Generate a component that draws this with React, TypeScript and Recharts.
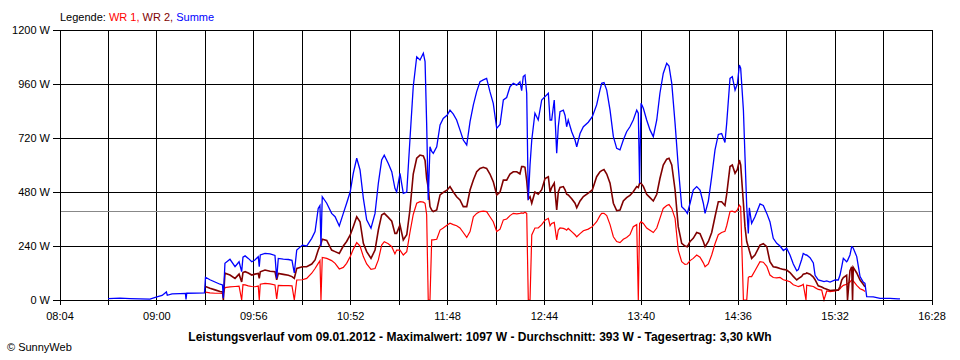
import { LineChart, Line, XAxis, YAxis, CartesianGrid, ReferenceLine } from 'recharts'

// Messzeitpunkte (hh:mm:ss)
const TIMES = [
  '08:31:45', '08:38:40', '08:44:30', '08:50:15', '08:56:00', '09:00:00', '09:03:00', '09:05:30', '09:06:00', '09:08:45',
  '09:13:20', '09:16:30', '09:16:50', '09:17:15', '09:23:10', '09:27:30', '09:28:05', '09:30:40', '09:33:35', '09:36:30',
  '09:37:55', '09:38:25', '09:39:20', '09:42:15', '09:45:10', '09:47:30', '09:49:00', '09:49:45', '09:51:00', '09:52:50',
  '09:54:50', '09:56:40', '09:58:35', '09:59:10', '09:59:45', '10:02:30', '10:05:25', '10:08:15', '10:09:15', '10:10:10',
  '10:13:05', '10:16:00', '10:18:05', '10:19:25', '10:20:50', '10:24:05', '10:26:35', '10:29:30', '10:31:25', '10:33:15',
  '10:34:15', '10:34:50', '10:35:35', '10:38:10', '10:41:00', '10:43:00', '10:45:25', '10:47:45', '10:49:40', '10:51:45',
  '10:53:30', '10:55:30', '10:57:25', '10:59:20', '11:01:15', '11:03:45', '11:06:05', '11:08:00', '11:09:55', '11:11:25',
  '11:13:45', '11:15:45', '11:17:35', '11:18:35', '11:20:30', '11:22:25', '11:24:25', '11:26:15', '11:28:10', '11:30:10',
  '11:32:05', '11:34:00', '11:35:00', '11:35:55', '11:36:50', '11:37:50', '11:38:50', '11:39:45', '11:41:45', '11:43:40',
  '11:45:30', '11:47:50', '11:49:25', '11:51:20', '11:53:15', '11:55:10', '11:57:05', '11:59:05', '12:01:00', '12:02:55',
  '12:04:50', '12:06:45', '12:08:40', '12:10:35', '12:12:30', '12:14:25', '12:16:25', '12:18:20', '12:20:15', '12:22:10',
  '12:24:05', '12:26:00', '12:28:00', '12:29:50', '12:30:50', '12:31:45', '12:32:45', '12:33:45', '12:34:40', '12:35:40',
  '12:36:40', '12:38:30', '12:40:25', '12:42:25', '12:44:20', '12:46:15', '12:47:15', '12:48:10', '12:49:40', '12:51:05',
  '12:52:00', '12:53:00', '12:54:55', '12:55:55', '12:56:50', '12:57:45', '12:59:45', '13:01:40', '13:02:40', '13:04:35',
  '13:06:30', '13:09:20', '13:11:40', '13:14:10', '13:16:05', '13:17:05', '13:18:25', '13:20:00', '13:21:55', '13:23:50',
  '13:25:45', '13:27:40', '13:29:35', '13:31:30', '13:33:25', '13:35:20', '13:37:20', '13:38:15', '13:39:00', '13:39:50',
  '13:41:10', '13:43:05', '13:45:00', '13:46:55', '13:48:55', '13:50:45', '13:52:40', '13:54:40', '13:56:00', '13:57:35',
  '13:59:30', '14:01:20', '14:03:20', '14:05:15', '14:06:35', '14:08:10', '14:10:00', '14:12:00', '14:13:55', '14:15:50',
  '14:16:50', '14:18:45', '14:20:40', '14:22:35', '14:24:30', '14:26:25', '14:28:20', '14:29:20', '14:31:15', '14:32:35',
  '14:34:10', '14:35:30', '14:36:40', '14:37:25', '14:39:00', '14:39:55', '14:40:55', '14:41:50', '14:42:25', '14:43:45',
  '14:45:40', '14:48:35', '14:50:30', '14:52:30', '14:54:20', '14:56:15', '14:58:15', '15:00:10', '15:02:05', '15:04:00',
  '15:05:55', '15:07:50', '15:09:50', '15:10:45', '15:12:40', '15:13:35', '15:15:10', '15:15:35', '15:17:30', '15:19:25',
  '15:20:25', '15:22:15', '15:24:15', '15:25:35', '15:27:10', '15:29:05', '15:32:00', '15:33:50', '15:34:50', '15:35:50',
  '15:36:45', '15:38:40', '15:39:10', '15:40:35', '15:41:35', '15:42:05', '15:42:30', '15:44:30', '15:46:25', '15:48:15',
  '15:49:15', '15:50:15', '15:54:05', '15:58:00', '16:03:45', '16:08:20', '16:09:30',
]

const _ = null

// WR 1 (W)
const WR1 = [
  _, _, _, _, _, _, _, _, _, _,
  _, _, _, _, _, _, 35, 32, 30, 30,
  29, 28, 55, 58, 60, 62, 0, 68, 67, 63,
  60, 59, 62, 0, 70, 74, 72, 67, 5, 65,
  64, 64, 63, 0, 89, 90, 96, 119, 140, 163,
  175, 0, 189, 185, 175, 163, 138, 145, 163, 193,
  225, 255, 240, 193, 160, 136, 140, 178, 244, 259,
  250, 237, 205, 222, 222, 200, 215, 300, 380, 430,
  437, 435, 430, 380, 0, 0, 267, 267, 270, 311,
  320, 333, 341, 335, 330, 320, 300, 278, 304, 370,
  385, 393, 395, 393, 370, 348, 304, 315, 356, 360,
  375, 385, 383, 385, 387, 385, 390, 385, 0, 0,
  289, 320, 320, 335, 355, 363, 330, 340, 345, 267,
  311, 320, 318, 315, 310, 318, 304, 290, 281, 295,
  308, 315, 326, 348, 375, 385, 385, 375, 335, 281,
  260, 255, 270, 278, 290, 326, 335, 0, 340, 348,
  340, 320, 310, 300, 320, 363, 407, 420, 424, 407,
  363, 222, 170, 158, 160, 175, 185, 200, 190, 165,
  148, 160, 200, 250, 290, 300, 305, 330, 393, 395,
  390, 400, 422, 415, 0, 0, 0, 100, 104, 104,
  130, 170, 168, 150, 111, 100, 98, 100, 90, 86,
  81, 68, 62, 60, 65, 70, 0, 66, 63, 60,
  55, 47, 44, 0, 40, 37, 40, 44, 50, 59,
  65, 70, 72, 80, 89, 87, 85, 65, 50, 44,
  38, _, _, _, _, _, _,
]

// WR 2 (W)
const WR2 = [
  _, _, _, _, _, _, _, _, _, _,
  _, _, _, _, _, _, 60, 52, 45, 38,
  36, 0, 119, 111, 96, 115, 80, 122, 126, 120,
  111, 115, 118, 96, 125, 133, 128, 126, 90, 118,
  114, 110, 104, 96, 140, 148, 148, 160, 178, 222,
  240, 250, 270, 265, 222, 215, 207, 240, 260, 289,
  326, 370, 348, 252, 215, 185, 222, 311, 378, 385,
  367, 350, 296, 296, 333, 267, 290, 400, 560, 630,
  644, 640, 620, 540, 500, 415, 400, 393, 400, 467,
  478, 489, 504, 480, 459, 445, 415, 415, 489, 533,
  570, 585, 590, 585, 560, 526, 467, 480, 533, 533,
  560, 570, 570, 560, 593, 593, 590, 530, 450, 459,
  430, 480, 470, 490, 540, 548, 480, 500, 520, 400,
  480, 500, 504, 490, 470, 467, 450, 430, 410, 440,
  460, 475, 489, 548, 570, 575, 580, 560, 519, 430,
  397, 400, 440, 455, 465, 481, 504, 500, 519, 519,
  505, 470, 455, 440, 470, 540, 600, 626, 630, 600,
  489, 326, 252, 240, 237, 260, 274, 300, 295, 260,
  237, 260, 300, 370, 437, 437, 420, 470, 593, 600,
  563, 580, 622, 600, 430, 326, 260, 237, 220, 185,
  200, 244, 250, 237, 170, 148, 145, 140, 136, 133,
  122, 105, 89, 95, 105, 115, 118, 120, 115, 102,
  90, 63, 58, 52, 48, 42, 44, 44, 60, 89,
  100, 110, 0, 130, 148, 0, 145, 120, 89, 70,
  59, _, _, _, _, _, _,
]

// Summe (W)
const SUMME = [
  6, 8, 6, 5, 4, 14, 20, 36, 21, 27,
  28, 29, 2, 30, 31, 32, 101, 90, 80, 70,
  67, 8, 163, 181, 148, 170, 126, 190, 196, 185,
  170, 178, 193, 148, 200, 207, 205, 198, 96, 185,
  182, 180, 176, 120, 222, 244, 240, 274, 304, 407,
  420, 240, 459, 430, 385, 370, 329, 385, 430, 481,
  563, 630, 578, 452, 356, 319, 385, 519, 622, 644,
  607, 570, 496, 480, 563, 474, 480, 711, 948, 1081,
  1067, 1097, 1060, 785, 444, 681, 660, 652, 681, 778,
  807, 822, 844, 826, 800, 756, 711, 689, 793, 867,
  926, 970, 978, 985, 926, 874, 763, 780, 889, 900,
  948, 963, 955, 970, 930, 993, 1000, 919, 444, 600,
  711, 830, 800, 889, 904, 919, 800, 800, 889, 652,
  770, 837, 844, 820, 770, 800, 748, 711, 681, 740,
  770, 790, 815, 867, 933, 963, 966, 933, 844, 726,
  674, 667, 711, 748, 770, 800, 844, 830, 519, 874,
  852, 800, 756, 726, 800, 919, 1007, 1052, 1040, 963,
  785, 593, 415, 400, 385, 430, 489, 504, 489, 430,
  385, 440, 548, 667, 736, 740, 700, 785, 985, 993,
  933, 960, 1044, 1030, 844, 637, 415, 296, 410, 341,
  370, 427, 420, 385, 348, 274, 252, 240, 220, 230,
  200, 160, 130, 135, 180, 207, 200, 200, 188, 165,
  110, 89, 85, 82, 85, 80, 89, 89, 111, 148,
  185, 170, 175, 200, 237, 235, 230, 193, 104, 80,
  74, 15, 14, 7, 7, 5, 5,
]

const X_TICKS = [
  '08:04', '08:32', '09:00', '09:28', '09:56', '10:24', '10:52', '11:20', '11:48', '12:16',
  '12:44', '13:12', '13:40', '14:08', '14:36', '15:04', '15:32', '16:00', '16:28',
]
const Y_TICKS = [0, 240, 480, 720, 960, 1200]
const AVERAGE = 393

const toMin = (s: string) => {
  const [h, m, sec] = s.split(':').map(Number)
  return h * 60 + m + (sec || 0) / 60
}

const data = TIMES.map((t, i) => ({ t: toMin(t), wr1: WR1[i], wr2: WR2[i], sum: SUMME[i] }))
const xTicks = X_TICKS.map(toMin)

const font = '"Liberation Sans", Arial, sans-serif'

export default function App() {
  return (
    <div style={{ position: 'absolute', left: 0, top: 0, width: 960, height: 360, background: '#fff', fontFamily: font }}>
      <div style={{ position: 'absolute', left: 60, top: 11, fontSize: 11 }}>
        Legende: <span style={{ color: '#ff0000' }}>WR 1,</span>{' '}
        <span style={{ color: '#800000' }}>WR 2,</span>{' '}
        <span style={{ color: '#0000ff' }}>Summe</span>
      </div>
      <LineChart width={960} height={360} data={data} margin={{ top: 30, right: 28, bottom: 30, left: 0 }}>
        <CartesianGrid stroke="#000" strokeWidth={1} shapeRendering="crispEdges" />
        <XAxis
          dataKey="t"
          type="number"
          domain={[xTicks[0], xTicks[xTicks.length - 1]]}
          ticks={xTicks}
          interval={0}
          height={30}
          tickSize={5}
          tickMargin={7}
          tickFormatter={(v: number) => {
            const i = xTicks.indexOf(v)
            return i % 2 === 0 ? X_TICKS[i] : ''
          }}
          axisLine={{ stroke: '#000', shapeRendering: 'crispEdges' }}
          tickLine={{ stroke: '#000', shapeRendering: 'crispEdges' }}
          tick={{ fill: '#000', fontSize: 11, fontFamily: font }}
        />
        <YAxis
          type="number"
          domain={[0, 1200]}
          ticks={Y_TICKS}
          width={60}
          tickSize={7}
          tickMargin={3}
          tickFormatter={(v: number) => `${v} W`}
          axisLine={{ stroke: '#000', shapeRendering: 'crispEdges' }}
          tickLine={{ stroke: '#000', shapeRendering: 'crispEdges' }}
          tick={{ fill: '#000', fontSize: 11, fontFamily: font }}
        />
        <ReferenceLine y={AVERAGE} stroke="#888" strokeWidth={1} shapeRendering="crispEdges" />
        <Line dataKey="wr1" type="linear" stroke="#ff0000" strokeWidth={1.2} dot={false} isAnimationActive={false} connectNulls={false} />
        <Line dataKey="wr2" type="linear" stroke="#800000" strokeWidth={1.6} dot={false} isAnimationActive={false} connectNulls={false} />
        <Line dataKey="sum" type="linear" stroke="#0000ff" strokeWidth={1.3} dot={false} isAnimationActive={false} connectNulls={false} />
      </LineChart>
      <div style={{ position: 'absolute', left: 0, width: 960, top: 330, textAlign: 'center', fontSize: 12, fontWeight: 'bold' }}>
        Leistungsverlauf vom 09.01.2012 - Maximalwert: 1097 W - Durchschnitt: 393 W - Tagesertrag: 3,30 kWh
      </div>
      <div style={{ position: 'absolute', left: 7, top: 341, fontSize: 11 }}>© SunnyWeb</div>
    </div>
  )
}
